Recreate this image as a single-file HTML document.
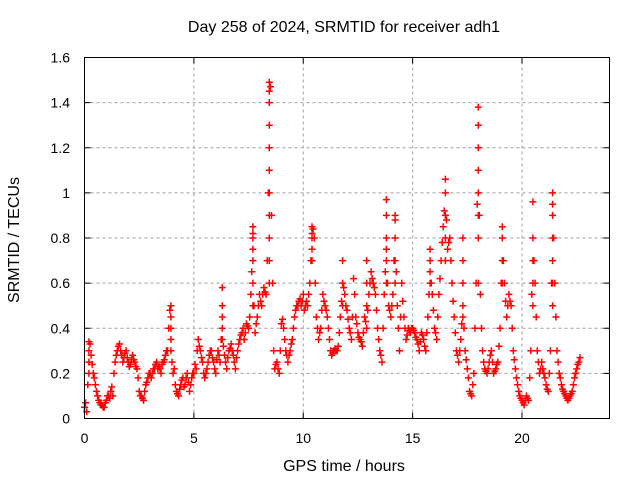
<!DOCTYPE html>
<html><head><meta charset="utf-8"><style>
body{margin:0;background:#fff}
svg{display:block;font-family:"Liberation Sans",sans-serif;font-size:14px}
</style></head><body>
<svg id="c" width="640" height="480">
<text x="344" y="32" text-anchor="middle" font-size="16">Day 258 of 2024, SRMTID for receiver adh1</text>
<text x="344" y="471" text-anchor="middle" font-size="16">GPS time / hours</text>
<text x="19" y="240" text-anchor="middle" font-size="16" transform="rotate(-90 19 240)">SRMTID / TECUs</text>
<g id="grid"></g>
<g id="ticks"></g>
<g id="pts"></g>
<rect x="84.5" y="57.5" width="525" height="361" fill="none" stroke="#000"/>
</svg>
<script>
const xTicks=[0,5,10,15,20];
const yTicks=[0,0.2,0.4,0.6,0.8,1,1.2,1.4,1.6];
const yTickLabels=["0","0.2","0.4","0.6","0.8","1","1.2","1.4","1.6"];
const times=[];for(let i=0;i<=226;i++)times.push(+(i*0.1).toFixed(1));
const times2=[];for(let i=0;i<=226;i++)times2.push(+(i*0.1+0.05).toFixed(2));
const values=[0.05,0.03,0.3,0.28,0.2,0.15,0.1,0.07,0.06,0.05,0.08,0.1,0.12,0.1,0.25,0.3,0.33,0.28,0.27,0.3,0.25,0.24,0.28,0.25,0.22,0.12,0.1,0.08,0.15,0.18,0.2,0.2,0.22,0.25,0.23,0.2,0.25,0.28,0.3,0.48,0.25,0.22,0.12,0.1,0.15,0.18,0.15,0.2,0.12,0.18,0.2,0.22,0.35,0.3,0.25,0.18,0.22,0.28,0.3,0.25,0.2,0.3,0.25,0.45,0.28,0.22,0.3,0.33,0.28,0.22,0.3,0.35,0.38,0.35,0.42,0.4,0.55,0.8,0.38,0.45,0.55,0.5,0.58,0.55,1.0,1.47,0.6,0.22,0.25,0.2,0.42,0.4,0.3,0.25,0.3,0.35,0.45,0.5,0.52,0.5,0.55,0.5,0.5,0.6,0.82,0.8,0.45,0.35,0.4,0.55,0.5,0.45,0.35,0.28,0.3,0.3,0.32,0.45,0.6,0.55,0.48,0.4,0.35,0.62,0.45,0.38,0.35,0.32,0.45,0.4,0.55,0.65,0.6,0.55,0.4,0.3,0.25,0.55,0.75,0.5,0.45,0.55,0.88,0.5,0.3,0.6,0.45,0.35,0.4,0.38,0.4,0.38,0.35,0.3,0.38,0.35,0.3,0.45,0.65,0.55,0.4,0.35,0.55,0.7,0.85,1.0,0.75,0.8,0.6,0.45,0.3,0.25,0.35,0.5,0.3,0.22,0.12,0.1,0.2,0.6,1.3,0.55,0.3,0.22,0.2,0.25,0.3,0.2,0.22,0.25,0.4,0.8,0.6,0.45,0.55,0.5,0.3,0.22,0.15,0.1,0.08,0.06,0.1,0.08,0.3,0.8,0.6,0.3,0.2,0.25,0.2,0.15,0.12,0.3,0.95,0.6,0.3,0.2,0.15,0.12,0.1,0.08,0.1,0.12,0.18,0.22,0.25];
const values2=[0.07,0.15,0.33,0.24,0.18,0.12,0.08,0.06,0.05,0.07,0.1,0.09,0.14,0.2,0.28,0.32,0.3,0.25,0.29,0.27,0.23,0.26,0.26,0.23,0.18,0.1,0.09,0.12,0.16,0.2,0.18,0.22,0.24,0.22,0.22,0.24,0.26,0.3,0.4,0.3,0.2,0.15,0.11,0.13,0.17,0.14,0.18,0.16,0.15,0.2,0.24,0.3,0.32,0.27,0.2,0.2,0.25,0.3,0.27,0.22,0.26,0.28,0.35,0.32,0.25,0.27,0.31,0.3,0.25,0.27,0.33,0.37,0.4,0.38,0.41,0.45,0.65,0.5,0.42,0.5,0.52,0.55,0.56,0.7,1.2,0.9,0.3,0.24,0.22,0.3,0.44,0.35,0.28,0.28,0.33,0.4,0.48,0.5,0.53,0.52,0.48,0.52,0.55,0.7,0.84,0.6,0.4,0.38,0.48,0.52,0.48,0.4,0.3,0.29,0.31,0.3,0.38,0.52,0.58,0.5,0.44,0.38,0.45,0.55,0.42,0.36,0.34,0.38,0.43,0.48,0.6,0.62,0.58,0.48,0.35,0.28,0.4,0.65,0.6,0.48,0.5,0.7,0.65,0.4,0.45,0.52,0.4,0.37,0.39,0.4,0.39,0.36,0.33,0.34,0.37,0.32,0.38,0.55,0.6,0.48,0.38,0.45,0.62,0.78,0.92,0.88,0.78,0.7,0.52,0.38,0.28,0.3,0.42,0.4,0.26,0.18,0.11,0.15,0.4,0.95,0.9,0.4,0.25,0.21,0.22,0.28,0.25,0.21,0.24,0.32,0.6,0.7,0.52,0.5,0.52,0.4,0.26,0.18,0.12,0.09,0.07,0.08,0.09,0.18,0.55,0.7,0.45,0.25,0.22,0.22,0.18,0.13,0.2,0.6,0.8,0.45,0.25,0.18,0.13,0.11,0.09,0.09,0.11,0.15,0.2,0.24,0.27];
const spikeTimes=[0.2,3.95,6.3,7.7,8.45,10.4,13.8,14.2,16.5,18.0,19.1,20.5,21.4,12.9,11.8,17.3,15.8];
const spikeValues=[[0.2,0.25,0.3,0.34],[0.3,0.35,0.4,0.45,0.5],[0.35,0.4,0.5,0.58],[0.5,0.6,0.7,0.75,0.82,0.85],[0.6,0.7,0.8,0.9,1.0,1.1,1.2,1.3,1.4,1.45,1.49],[0.7,0.75,0.8,0.85],[0.6,0.7,0.8,0.9,0.97],[0.6,0.7,0.8,0.9],[0.7,0.8,0.9,1.0,1.06],[0.6,0.8,0.9,1.0,1.1,1.2,1.3,1.38],[0.6,0.7,0.8,0.85],[0.5,0.6,0.7,0.8,0.96],[0.5,0.6,0.7,0.8,0.9,1.0],[0.5,0.6,0.7],[0.5,0.6,0.7],[0.45,0.6,0.7,0.8],[0.6,0.7,0.75]];
const X0=84.5,X1=609.5,Y0=418.5,Y1=57.5;
const sx=t=>X0+t/24*(X1-X0), sy=v=>Y0-v/1.6*(Y0-Y1);
const NS="http://www.w3.org/2000/svg";
const grid=document.getElementById('grid'),ticks=document.getElementById('ticks'),pts=document.getElementById('pts');
function mk(tag,at,parent){const e=document.createElementNS(NS,tag);for(const k in at)e.setAttribute(k,at[k]);parent.appendChild(e);return e;}
xTicks.forEach(t=>{const x=sx(t);
 if(t>0){const g=mk('line',{x1:x,x2:x,y1:Y0,y2:Y1,stroke:'#a0a0a0','stroke-dasharray':'3,3'},grid);}
 const tk=mk('path',{d:`M${x},${Y0}v-6M${x},${Y1}v6`,stroke:'#000'},ticks);
 const l=mk('text',{x:x,y:443,'text-anchor':'middle'},ticks);l.textContent=t;});
yTicks.forEach((v,i)=>{const y=sy(v);
 if(v>0&&v<1.6){const g=mk('line',{x1:X0,x2:X1,y1:y,y2:y,stroke:'#a0a0a0','stroke-dasharray':'3,3'},grid);}
 const tk=mk('path',{d:`M${X0},${y}h6M${X1},${y}h-6`,stroke:'#000'},ticks);
 const l=mk('text',{x:70,y:y+5,'text-anchor':'end'},ticks);l.textContent=yTickLabels[i];});
let d='';
function plus(t,v){const x=sx(t),y=sy(v);d+=`M${(x-3.5).toFixed(1)},${y.toFixed(1)}h7M${x.toFixed(1)},${(y-3.5).toFixed(1)}v7`;}
times.forEach((t,i)=>{if(values[i]!==undefined)plus(t,values[i]);});
times2.forEach((t,i)=>{if(values2[i]!==undefined)plus(t,values2[i]);});
spikeTimes.forEach((t,i)=>spikeValues[i].forEach(v=>plus(t,v)));
const p=mk('path',{d:d,stroke:'#ff0000','stroke-width':'1.5',fill:'none'},pts);


</script>
</body></html>
